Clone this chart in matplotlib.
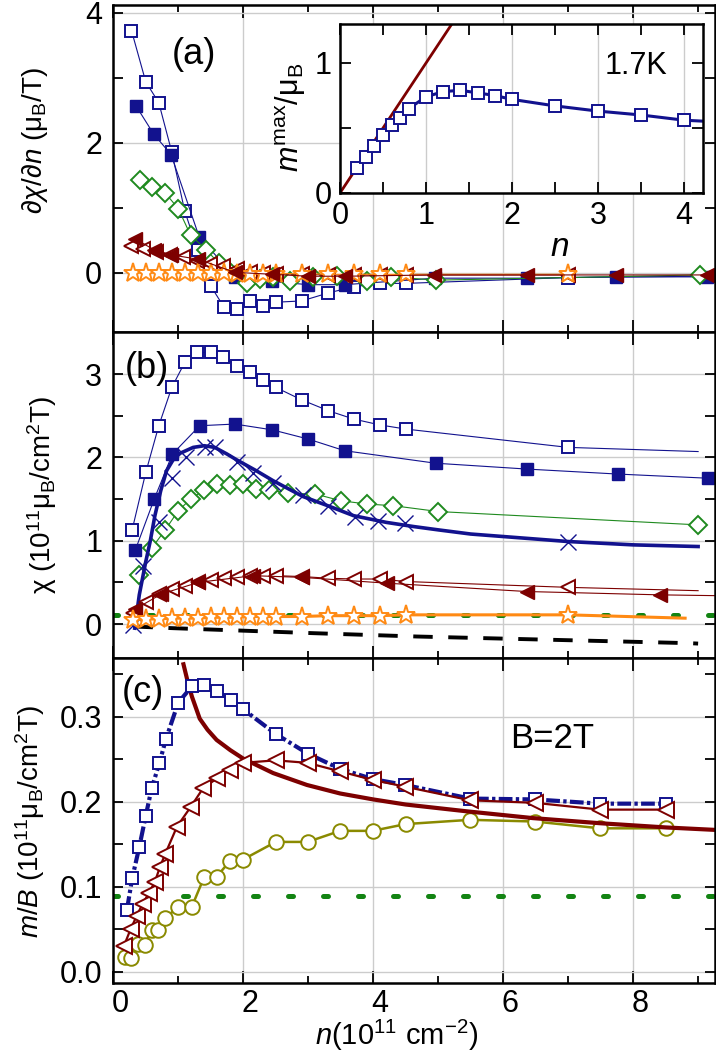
import numpy as np
import matplotlib.pyplot as plt
from matplotlib.ticker import FormatStrFormatter
from matplotlib.transforms import ScaledTranslation

plt.rcParams['font.family'] = ['Liberation Sans', 'DejaVu Sans']
plt.rcParams['mathtext.fontset'] = 'custom'
plt.rcParams['mathtext.rm'] = 'Liberation Sans'
plt.rcParams['mathtext.it'] = 'Liberation Sans:italic'
plt.rcParams['mathtext.bf'] = 'Liberation Sans:bold'

navy = '#12128e'
dred = '#7d0000'
green = '#1f8a1f'
orange = '#ff8a14'
olive = '#8a8a00'
dotgreen = '#138413'

# ---------------- (a) dchi/dn ----------------
a_sq_open_n = [0.28, 0.50, 0.70, 0.90, 1.10, 1.30, 1.50, 1.70, 1.90, 2.10, 2.30, 2.50, 2.90, 3.30, 3.70, 4.10, 4.50, 7.00]
a_sq_open_d = [3.73, 2.94, 2.62, 1.86, 0.95, 0.35, -0.20, -0.52, -0.56, -0.43, -0.51, -0.45, -0.43, -0.31, -0.21, -0.16, -0.16, -0.07]
a_sq_open_end = (9.0, -0.05)

a_sq_fill_n = [0.35, 0.62, 0.89, 1.32, 1.87, 2.44, 3.00, 3.56, 4.95, 6.36, 7.74, 9.13]
a_sq_fill_d = [2.57, 2.14, 1.82, 0.56, -0.06, -0.13, -0.18, -0.18, -0.08, -0.08, -0.06, -0.06]

a_dia_n = [0.41, 0.59, 0.80, 1.00, 1.19, 1.43, 1.62, 1.80, 2.05, 2.25, 2.46, 2.72, 3.08, 3.44, 3.90, 4.28, 4.97, 9.03]
a_dia_d = [1.43, 1.33, 1.23, 0.99, 0.58, 0.36, 0.15, 0.02, -0.16, -0.10, -0.06, -0.12, -0.06, -0.04, -0.13, -0.06, -0.11, -0.03]

a_tri_open_n = [0.27, 0.46, 0.66, 0.87, 1.08, 1.29, 1.49, 1.69, 1.90, 2.10, 2.30, 2.50, 2.90, 3.30, 3.70, 4.10, 4.50, 7.00]
a_tri_open_d = [0.42, 0.37, 0.33, 0.28, 0.24, 0.19, 0.14, 0.11, 0.06, 0.02, 0.00, -0.01, -0.02, -0.03, -0.03, -0.03, -0.03, -0.03]

a_tri_fill_n = [0.33, 0.62, 0.89, 1.31, 1.87, 2.44, 3.00, 3.56, 4.93, 6.36, 7.74, 9.13]
a_tri_fill_d = [0.53, 0.36, 0.28, 0.21, 0.01, -0.02, -0.05, -0.05, -0.03, -0.03, -0.03, -0.03]

star_n = [0.30, 0.50, 0.70, 0.90, 1.10, 1.30, 1.50, 1.70, 1.90, 2.10, 2.30, 2.50, 2.90, 3.30, 3.70, 4.10, 4.50, 7.00]
a_star_d = [0.00, 0.00, 0.00, 0.00, 0.00, 0.00, 0.00, 0.00, -0.01, -0.01, -0.01, -0.01, -0.01, -0.02, -0.02, -0.02, -0.02, -0.02]

# inset: m_max / mu_B vs n at 1.7 K
in_n = [0.20, 0.30, 0.40, 0.50, 0.60, 0.70, 0.80, 1.00, 1.20, 1.40, 1.60, 1.80, 2.00, 2.50, 3.00, 3.50, 4.00]
in_m = [0.19, 0.28, 0.36, 0.45, 0.52, 0.58, 0.65, 0.74, 0.78, 0.79, 0.77, 0.75, 0.72, 0.67, 0.63, 0.60, 0.56]
in_end = (4.30, 0.55)
in_lin_n = [0.0, 1.4]
in_lin_m = [0.0, 1.4]

# ---------------- (b) chi ----------------
b_sq_open_n = [0.29, 0.50, 0.70, 0.90, 1.10, 1.29, 1.50, 1.69, 1.90, 2.10, 2.30, 2.50, 2.90, 3.31, 3.70, 4.10, 4.50, 7.00]
b_sq_open_chi = [1.13, 1.82, 2.38, 2.84, 3.14, 3.26, 3.26, 3.20, 3.10, 3.02, 2.93, 2.84, 2.69, 2.56, 2.46, 2.39, 2.34, 2.12]
b_sq_open_end = (9.0, 2.07)

b_sq_fill_n = [0.34, 0.63, 0.91, 1.33, 1.87, 2.45, 3.00, 3.56, 4.96, 6.36, 7.76, 9.15]
b_sq_fill_chi = [0.89, 1.50, 2.04, 2.38, 2.40, 2.33, 2.22, 2.08, 1.93, 1.86, 1.80, 1.75]

b_dia_n = [0.39, 0.59, 0.80, 1.00, 1.19, 1.40, 1.59, 1.80, 2.00, 2.20, 2.39, 2.69, 3.11, 3.50, 3.90, 4.31, 5.00, 9.00]
b_dia_chi = [0.59, 0.91, 1.13, 1.36, 1.50, 1.61, 1.68, 1.67, 1.68, 1.62, 1.61, 1.57, 1.56, 1.48, 1.44, 1.42, 1.35, 1.19]

b_x_n = [0.31, 0.45, 0.71, 0.90, 1.12, 1.41, 1.56, 1.90, 2.15, 2.46, 2.92, 3.31, 3.72, 4.08, 4.49, 7.00]
b_x_chi = [-0.01, 0.70, 1.23, 1.75, 2.01, 2.13, 2.13, 1.95, 1.81, 1.69, 1.55, 1.42, 1.29, 1.24, 1.21, 0.99]

b_fit_n = [0.33, 0.40, 0.50, 0.57, 0.64, 0.73, 0.82, 0.92, 1.03, 1.23, 1.40, 1.56, 1.75, 1.90, 2.20, 2.46, 2.92,
           3.30, 3.70, 4.20, 4.62, 5.00, 5.50, 6.00, 7.00, 8.00, 9.00]
b_fit_chi = [-0.05, 0.35, 0.75, 1.00, 1.30, 1.60, 1.84, 1.97, 2.05, 2.12, 2.14, 2.12, 2.04, 1.97, 1.84, 1.72, 1.53,
             1.42, 1.30, 1.22, 1.17, 1.13, 1.08, 1.05, 0.99, 0.95, 0.93]

b_tri_open_n = [0.30, 0.50, 0.70, 0.90, 1.10, 1.30, 1.50, 1.70, 1.90, 2.10, 2.30, 2.50, 2.90, 3.30, 3.70, 4.10, 4.50, 7.00]
b_tri_open_chi = [0.13, 0.27, 0.36, 0.42, 0.46, 0.50, 0.53, 0.55, 0.57, 0.58, 0.58, 0.58, 0.57, 0.55, 0.54, 0.54, 0.51, 0.44]
b_tri_open_end = (9.0, 0.40)

b_tri_fill_n = [0.34, 0.74, 1.31, 2.15, 2.90, 4.21, 6.36, 8.41]
b_tri_fill_chi = [0.18, 0.36, 0.50, 0.58, 0.56, 0.49, 0.39, 0.35]
b_tri_fill_end = (9.3, 0.34)

b_star_chi = [0.05, 0.06, 0.06, 0.07, 0.07, 0.07, 0.08, 0.08, 0.08, 0.09, 0.09, 0.09, 0.09, 0.10, 0.10, 0.10, 0.11, 0.11]
b_star_end = (8.8, 0.07)

b_dash_n = [0.31, 0.92, 2.00, 3.08, 4.67, 8.87, 9.00]
b_dash_chi = [-0.03, -0.05, -0.08, -0.11, -0.15, -0.23, -0.235]
b_green_level = 0.11

# ---------------- (c) m/B at 2 T ----------------
c_sq_n = [0.21, 0.29, 0.40, 0.50, 0.59, 0.71, 0.81, 1.00, 1.21, 1.40, 1.60, 1.81, 2.00, 2.50, 2.99, 3.49, 3.99,
          4.49, 5.49, 6.49, 7.49, 8.50]
c_sq_mb = [0.073, 0.110, 0.147, 0.184, 0.216, 0.246, 0.274, 0.317, 0.336, 0.338, 0.330, 0.320, 0.309, 0.280, 0.257,
           0.239, 0.227, 0.220, 0.204, 0.203, 0.198, 0.198]

c_tri_n = [0.16, 0.27, 0.36, 0.45, 0.55, 0.64, 0.72, 0.80, 0.98, 1.19, 1.38, 1.60, 1.80, 1.99, 2.50, 2.99, 3.49,
           3.99, 4.49, 5.49, 6.49, 7.49, 8.50]
c_tri_mb = [0.030, 0.051, 0.066, 0.080, 0.093, 0.106, 0.124, 0.139, 0.171, 0.194, 0.216, 0.228, 0.238, 0.246, 0.249,
            0.246, 0.236, 0.226, 0.218, 0.202, 0.199, 0.191, 0.191]

c_cir_n = [0.18, 0.28, 0.38, 0.49, 0.59, 0.69, 0.80, 1.00, 1.21, 1.40, 1.59, 1.80, 1.99, 2.50, 2.99, 3.49, 3.99,
           4.50, 5.49, 6.49, 7.49, 8.50]
c_cir_mb = [0.018, 0.017, 0.033, 0.032, 0.049, 0.049, 0.063, 0.077, 0.077, 0.112, 0.112, 0.131, 0.132, 0.153, 0.153,
            0.166, 0.166, 0.174, 0.179, 0.177, 0.169, 0.169]

c_curve_n = [1.08, 1.15, 1.21, 1.33, 1.45, 1.59, 1.80, 2.00, 2.46, 2.98, 3.49, 4.00, 4.50, 5.44, 6.46, 7.49, 8.51, 9.30]
c_curve_mb = [0.362, 0.340, 0.324, 0.298, 0.285, 0.273, 0.261, 0.251, 0.234, 0.220, 0.210, 0.203, 0.197, 0.189, 0.181,
              0.175, 0.170, 0.167]
c_green_level = 0.089

# ---------------- figure ----------------
W, H = 716, 1055
fig = plt.figure(figsize=(W / 100, H / 100), dpi=100)


def px_box(x0, y0, x1, y1):
    return [x0 / W, 1 - y1 / H, (x1 - x0) / W, (y1 - y0) / H]


def fxy(x, y):
    return x / W, 1 - y / H


ax_a = fig.add_axes(px_box(113.3, 5, 715, 332))
ax_b = fig.add_axes(px_box(113.3, 332, 715, 658))
ax_c = fig.add_axes(px_box(113.3, 658, 715, 983))


def style(ax, ylim, ymaj, ymin, show_x):
    ax.set_xlim(0, 9.26)
    ax.set_ylim(*ylim)
    ax.set_xticks([0, 2, 4, 6, 8])
    ax.set_xticks([1, 3, 5, 7, 9], minor=True)
    ax.set_yticks(ymaj)
    ax.set_yticks(ymin, minor=True)
    ax.tick_params(which='both', direction='in', top=True, right=True, width=1.3, labelsize=22, pad=8)
    ax.tick_params(axis='x', which='major', length=9)
    ax.tick_params(axis='x', which='minor', length=5)
    ax.tick_params(axis='y', which='both', length=7)
    ax.tick_params(axis='x', labelbottom=show_x, pad=4)
    ax.grid(True, which='major', color='#cccccc', lw=1)
    ax.set_axisbelow(True)
    for s in ax.spines.values():
        s.set_linewidth(1.8)


style(ax_a, (-0.908, 4.123), [0, 2, 4], [1, 3], False)
style(ax_b, (-0.408, 3.505), [0, 1, 2, 3], [0.5, 1.5, 2.5], False)
style(ax_c, (-0.013, 0.3694), [0.0, 0.1, 0.2, 0.3], [0.05, 0.15, 0.25, 0.35], True)
ax_c.yaxis.set_major_formatter(FormatStrFormatter('%.1f'))
shift = ScaledTranslation(0.07, 0, fig.dpi_scale_trans)
for lab in ax_c.get_xticklabels():
    lab.set_transform(lab.get_transform() + shift)

thin = 0.8
mw = 1.4

# (a)
ax_a.plot(a_sq_open_n + [a_sq_open_end[0]], a_sq_open_d + [a_sq_open_end[1]], '-', color=navy, lw=thin)
ax_a.plot(a_sq_open_n, a_sq_open_d, 's', ms=8, mfc='white', mec=navy, mew=mw)
ax_a.plot(a_sq_fill_n, a_sq_fill_d, 's-', color=navy, lw=thin, ms=8.5, mec=navy)
ax_a.plot(a_dia_n, a_dia_d, 'D-', color=green, lw=thin, ms=9, mfc='white', mec=green, mew=mw)
ax_a.plot(a_tri_open_n, a_tri_open_d, '<-', color=dred, lw=thin, ms=10, mfc='white', mec=dred, mew=mw)
ax_a.plot(star_n, a_star_d, '*-', color=orange, lw=thin, ms=14, mfc='white', mec=orange, mew=mw)
ax_a.plot(a_tri_fill_n, a_tri_fill_d, '<-', color=dred, lw=thin, ms=10, mec=dred)

# (b)
ax_b.axhline(b_green_level, color=dotgreen, lw=3.6, ls=(0, (1, 6)), dash_capstyle='round')
ax_b.plot(b_dash_n, b_dash_chi, color='black', lw=2.8, ls=(0, (5, 4)))
ax_b.plot(b_sq_open_n + [b_sq_open_end[0]], b_sq_open_chi + [b_sq_open_end[1]], '-', color=navy, lw=thin)
ax_b.plot(b_sq_open_n, b_sq_open_chi, 's', ms=8, mfc='white', mec=navy, mew=mw)
ax_b.plot(b_sq_fill_n, b_sq_fill_chi, 's-', color=navy, lw=thin, ms=8.5, mec=navy)
ax_b.plot(b_dia_n, b_dia_chi, 'D-', color=green, lw=thin, ms=9, mfc='white', mec=green, mew=mw)
ax_b.plot(b_fit_n, b_fit_chi, '-', color=navy, lw=2.6)
ax_b.plot(b_x_n, b_x_chi, 'x', color=navy, ms=11, mew=1.0)
ax_b.plot(b_tri_open_n + [b_tri_open_end[0]], b_tri_open_chi + [b_tri_open_end[1]], '-', color=dred, lw=thin)
ax_b.plot(b_tri_open_n, b_tri_open_chi, '<', ms=10, mfc='white', mec=dred, mew=mw)
ax_b.plot(b_tri_fill_n + [b_tri_fill_end[0]], b_tri_fill_chi + [b_tri_fill_end[1]], '-', color=dred, lw=thin)
ax_b.plot(b_tri_fill_n, b_tri_fill_chi, '<', color=dred, ms=10, mec=dred)
ax_b.plot(star_n + [b_star_end[0]], b_star_chi + [b_star_end[1]], '-', color=orange, lw=2.2)
ax_b.plot(star_n, b_star_chi, '*', ms=14, mfc='white', mec=orange, mew=mw)

# (c)
ax_c.axhline(c_green_level, color=dotgreen, lw=3.6, ls=(0, (1, 6)), dash_capstyle='round')
ax_c.plot(c_cir_n, c_cir_mb, 'o-', color=olive, lw=1.8, ms=10.5, mfc='white', mec=olive, mew=mw)
ax_c.plot(c_curve_n, c_curve_mb, '-', color=dred, lw=3.0)
ax_c.plot(c_sq_n, c_sq_mb, 's', color=navy, lw=3.0, ls=(0, (3.3, 0.8, 0.8, 0.8)), ms=8,
          mfc='white', mec=navy, mew=mw)
ax_c.plot(c_tri_n, c_tri_mb, '<-', color=dred, lw=1.6, ms=11, mfc='white', mec=dred, mew=mw)

# inset
ax_in = fig.add_axes(px_box(340, 24, 703, 193), zorder=5)
ax_in.set_facecolor('white')
ax_in.set_xlim(0, 4.22)
ax_in.set_ylim(0, 1.30)
ax_in.set_xticks([0, 1, 2, 3, 4])
ax_in.set_xticks([0.5, 1.5, 2.5, 3.5], minor=True)
ax_in.set_yticks([0, 1])
ax_in.set_yticks([0.5], minor=True)
ax_in.tick_params(which='both', direction='in', top=True, right=True, width=1.3, length=8, labelsize=22, pad=6)
ax_in.grid(True, axis='x', which='major', color='#cccccc', lw=1)
ax_in.set_axisbelow(True)
for s in ax_in.spines.values():
    s.set_linewidth(1.8)
ax_in.plot(in_lin_n, in_lin_m, '-', color=dred, lw=2.0)
ax_in.plot(in_n + [in_end[0]], in_m + [in_end[1]], '-', color=navy, lw=2.2)
ax_in.plot(in_n, in_m, 's', ms=8.5, mfc='white', mec=navy, mew=mw)

# texts
fig.text(*fxy(194, 54), '(a)', fontsize=26, ha='center', va='center')
fig.text(*fxy(147, 368), '(b)', fontsize=26, ha='center', va='center')
fig.text(*fxy(143, 692), '(c)', fontsize=26, ha='center', va='center')
fig.text(*fxy(636, 66), '1.7K', fontsize=22, ha='center', va='center', zorder=10)
fig.text(*fxy(552, 739), 'B=2T', fontsize=25, ha='center', va='center')
fig.text(*fxy(560, 248), '$n$', fontsize=24, ha='center', va='center')
fig.text(*fxy(291, 117), '$m^{\\rm max}$/μ$_{\\rm B}$', fontsize=22, rotation=90, ha='center', va='center')

fig.text(*fxy(35, 141), '$\\partial\\chi/\\partial n$ (μ$_{\\rm B}$/T)', fontsize=20, rotation=90,
         ha='center', va='center')
fig.text(*fxy(42, 495), 'χ (10$^{11}$μ$_{\\rm B}$/cm$^2$T)', fontsize=20, rotation=90, ha='center', va='center')
fig.text(*fxy(30, 822), '$m/B$ (10$^{11}$μ$_{\\rm B}$/cm$^2$T)', fontsize=20, rotation=90, ha='center', va='center')
fig.text(*fxy(397, 1045), '$n$(10$^{11}$ cm$^{-2}$)', fontsize=21, ha='center', va='baseline')

fig.savefig('out.png', dpi=100)
